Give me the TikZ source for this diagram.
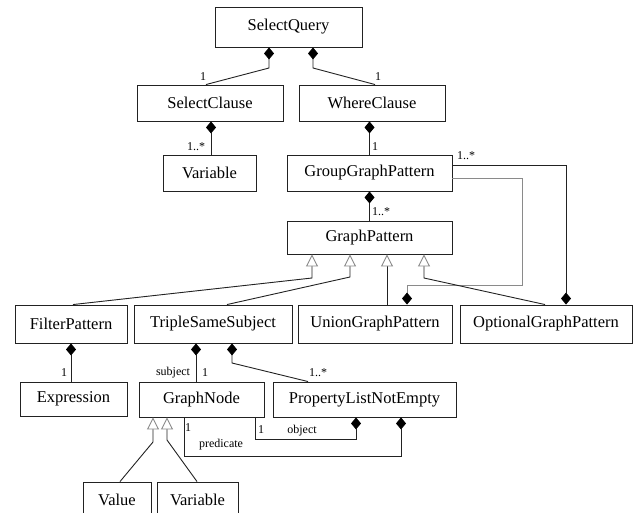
\documentclass[tikz,border=0pt]{standalone}
\usepackage{fontspec}
\setmainfont{Liberation Serif}
\usepackage{tikz}
\usetikzlibrary{arrows.meta, positioning, calc}
\definecolor{LineDark}{HTML}{222222}
\definecolor{LineGray}{HTML}{8A8A8A}
\tikzset{
  % Box styles
  classbox/.style={rectangle, draw=LineDark, line width=0.9pt, fill=white, inner sep=0pt, font=\fontsize{16.5}{19}\selectfont},
  % Label styles
  multlabel/.style={inner sep=0pt, font=\fontsize{12}{14}\selectfont},
  % Arrow styles
  comp/.style={-{Diamond[length=12pt, width=10pt, fill=black, color=black]}, line width=0.9pt, LineDark},
  graycomp/.style={comp, LineGray},
  inherit/.style={-{Triangle[open, length=12pt, width=12pt, fill=white, color=LineGray]}, line width=0.9pt, LineDark}
}

\begin{document}
\begin{tikzpicture}[x=1pt, y=-1pt]
  \useasboundingbox (0,0) rectangle (634,513);
  \clip (0,0) rectangle (634,513);

  % Query and clauses
  \node[classbox, minimum width=147pt, minimum height=40pt] (query) at (288.5,27) {SelectQuery};
  \node[classbox, minimum width=146pt, minimum height=36pt] (selectcl) at (210,103) {SelectClause};
  \node[classbox, minimum width=146pt, minimum height=36pt] (wherecl) at (372,103) {WhereClause};
  \node[classbox, minimum width=93pt, minimum height=36pt] (selvar) at (209.5,173) {Variable};
  \node[classbox, minimum width=165pt, minimum height=36pt] (groupgp) at (369.5,173) {GroupGraphPattern};
  \node[classbox, minimum width=165pt, minimum height=33pt] (graphpat) at (369.5,237.5) {GraphPattern};

  % Pattern kinds
  \node[classbox, minimum width=112pt, minimum height=38pt] (filterpat) at (71,324) {FilterPattern};
  \node[classbox, minimum width=158pt, minimum height=38pt] (triplesub) at (213,324) {TripleSameSubject};
  \node[classbox, minimum width=154pt, minimum height=38pt] (uniongp) at (375,324) {UnionGraphPattern};
  \node[classbox, minimum width=172pt, minimum height=38pt] (optgp) at (546,324) {OptionalGraphPattern};

  % Lower level
  \node[classbox, minimum width=107pt, minimum height=34pt] (expr) at (73.5,399) {Expression};
  \node[classbox, minimum width=125pt, minimum height=35pt] (graphnode) at (201.5,399.5) {GraphNode};
  \node[classbox, minimum width=183pt, minimum height=35pt] (proplist) at (364.5,399.5) {PropertyListNotEmpty};
  \node[classbox, minimum width=68pt, minimum height=36pt] (valuebox) at (117,500) {Value};
  \node[classbox, minimum width=81pt, minimum height=36pt] (nodevar) at (197.5,500) {Variable};

  % Compositions
  \draw[comp] ([xshift=-4pt]selectcl.north) -- (269,68) -- ([xshift=-19.5pt]query.south);
  \draw[comp] ([xshift=3pt]wherecl.north) -- (313,68) -- ([xshift=24.5pt]query.south);
  \draw[comp] ([xshift=1.5pt]selvar.north) -- ([xshift=1pt]selectcl.south);
  \draw[comp] (groupgp.north) -- (groupgp.north |- wherecl.south);
  \draw[comp] (graphpat.north) -- (groupgp.south);
  \draw[comp] ([yshift=8pt]groupgp.east) -| ([xshift=20pt]optgp.north);
  \draw[graycomp] ([yshift=-5pt]groupgp.east) -| (522,285) -| ([xshift=32pt]uniongp.north);
  \draw[comp] ([xshift=-2.5pt]expr.north) -- (filterpat.south);
  \draw[comp] ([xshift=-5.5pt]graphnode.north) -- ([xshift=-17pt]triplesub.south);
  \draw[comp] ([xshift=-56.5pt]proplist.north) -- (232,363) -- ([xshift=19pt]triplesub.south);
  \draw[comp] ([xshift=53.5pt]graphnode.south) -- ++(0,22) -| ([xshift=-8.5pt]proplist.south);
  \draw[comp] ([xshift=-17.5pt]graphnode.south) -- ++(0,39) -| ([xshift=36.5pt]proplist.south);

  % Generalizations
  \draw[inherit] ([xshift=2pt]filterpat.north) -- (312,278) -- ([xshift=-57.5pt]graphpat.south);
  \draw[inherit] ([xshift=14pt]triplesub.north) -- (350,277) -- ([xshift=-19.5pt]graphpat.south);
  \draw[inherit] ([xshift=12pt]uniongp.north) -- ([xshift=17.5pt]graphpat.south);
  \draw[inherit] ([xshift=-1pt]optgp.north) -- (424,278) -- ([xshift=54.5pt]graphpat.south);
  \draw[inherit] ([xshift=3pt]valuebox.north) -- (153,442) -- ([xshift=-48.5pt]graphnode.south);
  \draw[inherit] ([xshift=-0.5pt]nodevar.north) -- (167,440) -- ([xshift=-34.5pt]graphnode.south);

  % Multiplicities and roles
  \node[multlabel] (m1) at (203,77) {1};
  \node[multlabel] (m2) at (378,77) {1};
  \node[multlabel] (m3) at (196,147) {1..*};
  \node[multlabel] (m4) at (375,147) {1};
  \node[multlabel] (m5) at (381,212) {1..*};
  \node[multlabel] (m6) at (466,156) {1..*};
  \node[multlabel] (m7) at (64,373) {1};
  \node[multlabel] (subj) at (173,373) {subject};
  \node[multlabel] (m8) at (205,373) {1};
  \node[multlabel] (m9) at (318,373) {1..*};
  \node[multlabel] (m10) at (188,428) {1};
  \node[multlabel] (pred) at (221,445) {predicate};
  \node[multlabel] (m11) at (261,430) {1};
  \node[multlabel] (obj) at (302,431) {object};
\end{tikzpicture}
\end{document}
